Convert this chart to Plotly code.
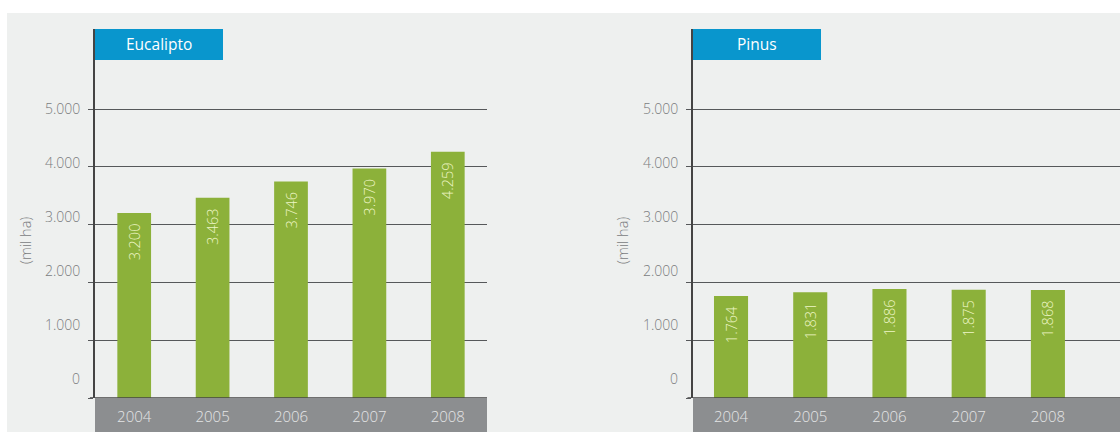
import plotly.graph_objects as go

years = ["2004", "2005", "2006", "2007", "2008"]
eucalipto = [3200, 3463, 3746, 3970, 4259]
pinus = [1764, 1831, 1886, 1875, 1868]
panel_titles = ["Eucalipto", "Pinus"]
y_tick_values = [0, 1000, 2000, 3000, 4000, 5000]
y_tick_labels = ["0", "1.000", "2.000", "3.000", "4.000", "5.000"]
y_axis_title = "(mil ha)"

W, H = 1120, 432
FONT = "Open Sans"
BAR = "#8cb13a"
GRID = "#56585a"
BLUE = "#0996cd"
BAND = "#8c8e90"
BG = "#eef0ef"

def px_x(p):
    return p / W

def px_y(p):
    return (H - p) / H

def fmt(v):
    return f"{v:,}".replace(",", ".") + "\u00a0\u00a0"

y_top = (398 - 29) / 57.8 * 1000
ydom = [px_y(398), px_y(29)]
doms = [[px_x(95), px_x(487)], [px_x(693), 1.0]]
xranges = [[-0.5, 4.5], [-0.48, 4.91]]

fig = go.Figure()
series = [eucalipto, pinus]
for i, vals in enumerate(series):
    sfx = "" if i == 0 else str(i + 1)
    fig.add_trace(go.Bar(
        x=list(range(len(years))), y=vals,
        text=[fmt(v) for v in vals],
        textposition="inside", insidetextanchor="end", textangle=-90,
        textfont=dict(family=FONT, size=14.5, color="#eef6c6", weight=300),
        marker=dict(color=BAR, line=dict(width=0)),
        width=0.43, xaxis="x" + sfx, yaxis="y" + sfx,
        cliponaxis=False, showlegend=False, hoverinfo="skip",
    ))

layout = dict(
    width=W, height=H, paper_bgcolor="white", plot_bgcolor="rgba(0,0,0,0)",
    margin=dict(l=0, r=0, t=0, b=0), bargap=0.5,
    shapes=[], annotations=[],
)
layout["shapes"].append(dict(type="rect", xref="paper", yref="paper",
                             x0=px_x(7), x1=1, y0=0, y1=px_y(13),
                             fillcolor=BG, line=dict(width=0), layer="below"))

for i in range(2):
    sfx = "" if i == 0 else str(i + 1)
    layout["xaxis" + sfx] = dict(
        domain=doms[i], range=xranges[i], anchor="y" + sfx,
        tickmode="array", tickvals=list(range(len(years))), ticktext=years,
        showgrid=False, zeroline=False, showline=False, ticks="",
        ticklabelstandoff=8,
        tickfont=dict(family=FONT, size=15, color="#e4e5e6", weight=300),
    )
    layout["yaxis" + sfx] = dict(
        domain=ydom, range=[0, y_top], anchor="x" + sfx,
        tickmode="array", tickvals=y_tick_values, showticklabels=False,
        showgrid=True, gridcolor=GRID, gridwidth=1.3,
        ticks="outside", ticklen=5, tickcolor=GRID, tickwidth=1.3,
        zeroline=False, showline=True, linecolor="#444", linewidth=1.5,
    )
    # grey band below the axis
    layout["shapes"].append(dict(type="rect", xref="x" + sfx + " domain", yref="paper",
                                 x0=0, x1=1, y0=0, y1=ydom[0],
                                 fillcolor=BAND, line=dict(width=0), layer="below"))
    # bottom axis line
    layout["shapes"].append(dict(type="line", xref="x" + sfx + " domain", yref="y" + sfx,
                                 x0=-0.013, x1=1, y0=0, y1=0,
                                 line=dict(color="#444", width=1.5)))
    # blue title box
    bx0 = doms[i][0]
    bx1 = bx0 + 128 / W
    layout["shapes"].append(dict(type="rect", xref="paper", yref="paper",
                                 x0=bx0, x1=bx1, y0=px_y(60), y1=px_y(29),
                                 fillcolor=BLUE, line=dict(width=0)))
    layout["annotations"].append(dict(xref="paper", yref="paper",
                                      x=(bx0 + bx1) / 2, y=px_y(44),
                                      xanchor="center", yanchor="middle",
                                      text=panel_titles[i], showarrow=False,
                                      font=dict(family=FONT, size=15.5, color="white")))
    # y tick labels (as printed in the original, slightly offset from gridlines)
    for k, lab in enumerate(y_tick_labels):
        ypix = 378 - 53.8 * k
        layout["annotations"].append(dict(xref="x" + sfx + " domain", yref="paper",
                                          x=0, y=px_y(ypix), xanchor="right", yanchor="middle",
                                          xshift=-13,
                                          text=lab, showarrow=False,
                                          font=dict(family=FONT, size=14, color="#7a7c7e", weight=300)))
    # y axis title
    tx = 25 if i == 0 else 622
    layout["annotations"].append(dict(xref="paper", yref="paper", x=px_x(tx), y=px_y(241),
                                      xanchor="center", yanchor="middle",
                                      text=y_axis_title, textangle=-90, showarrow=False,
                                      font=dict(family=FONT, size=14.5, color="#7a7c7e", weight=300)))

fig.update_layout(**layout)
fig.write_html("out.html", config={"displayModeBar": False},
               post_script="document.body.style.margin='0';document.body.style.overflow='hidden';")
